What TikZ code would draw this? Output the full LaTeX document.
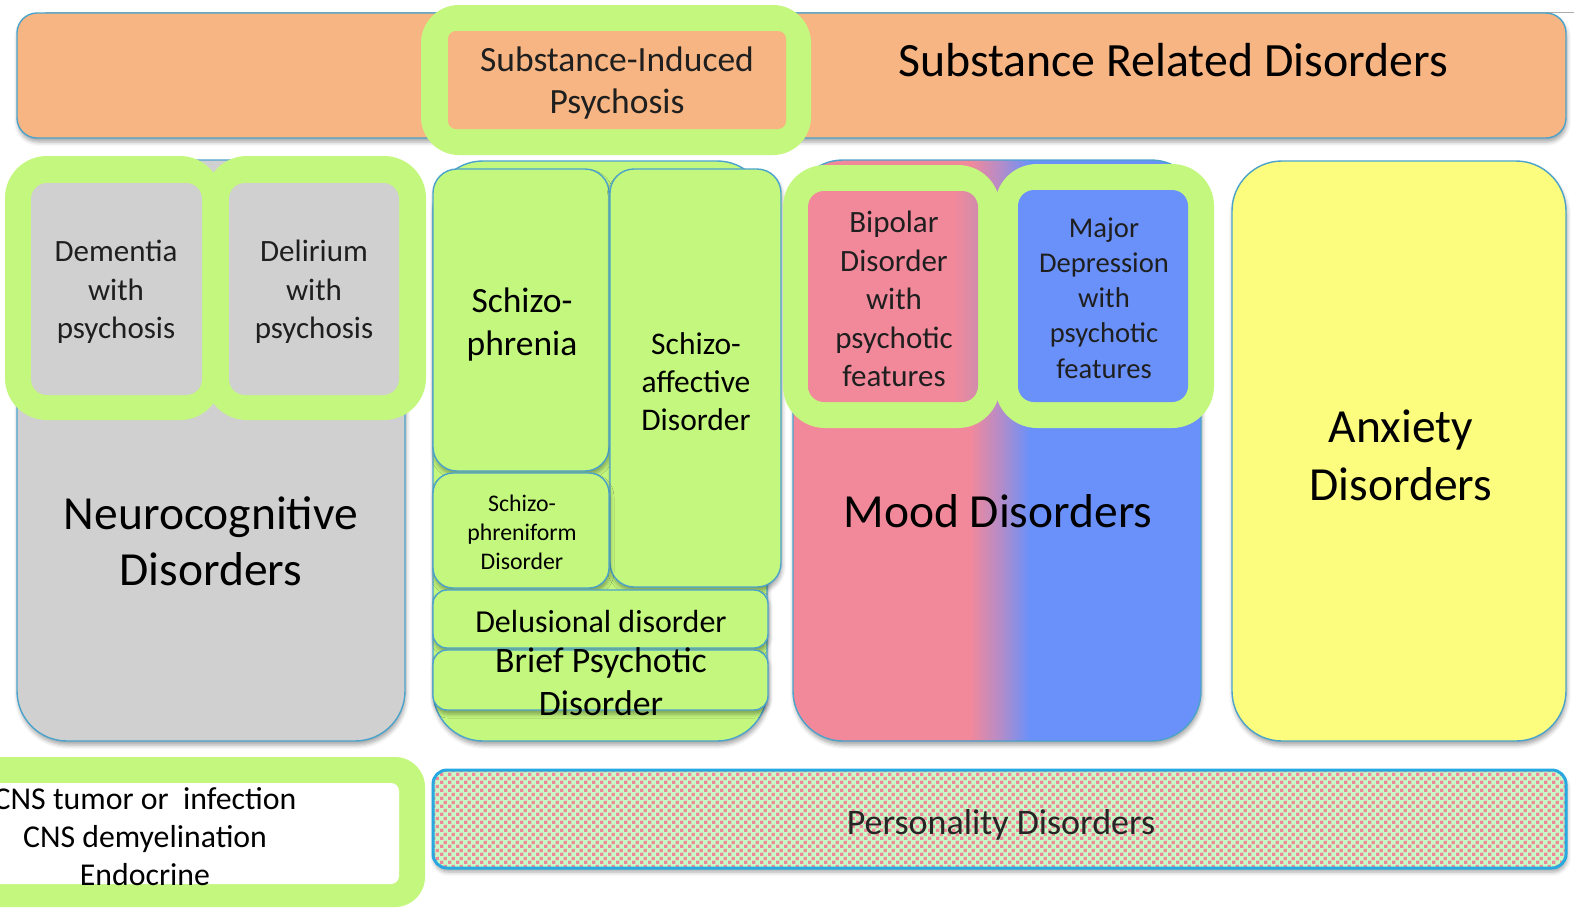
\documentclass[tikz,border=0pt]{standalone}
\usepackage{fontspec}
\setmainfont{Carlito}
\usetikzlibrary{shadows.blur,patterns}

\definecolor{edgeblue}{HTML}{4BA3CB}
\definecolor{persblue}{HTML}{29A8E0}
\definecolor{framegreen}{HTML}{C4F77E}
\definecolor{orangec}{HTML}{F6B582}
\definecolor{greyc}{HTML}{D0D0D0}
\definecolor{yellowc}{HTML}{FCFC7E}
\definecolor{moodpink}{HTML}{F2899B}
\definecolor{moodmid}{HTML}{B48CC8}
\definecolor{moodblue}{HTML}{6A91FA}
\definecolor{bipedge}{HTML}{D08CAC}
\definecolor{persbg}{HTML}{C8FAC8}
\definecolor{perssq}{HTML}{F0889A}

% colour blend of the mood column: pink on the left, blue on the right
\pgfdeclarehorizontalshading{moodshade}{100bp}{color(0bp)=(moodpink); color(46.7bp)=(moodpink); color(50.4bp)=(moodmid); color(54bp)=(moodblue); color(100bp)=(moodblue)}
\pgfdeclarehorizontalshading{bipshade}{100bp}{color(0bp)=(moodpink); color(68bp)=(moodpink); color(75bp)=(bipedge); color(100bp)=(bipedge)}

% small scattered squares of the personality band
\pgfdeclarepatternformonly{confetti}{\pgfpointorigin}{\pgfqpoint{8pt}{8pt}}{\pgfqpoint{8pt}{8pt}}{%
  \pgfpathrectangle{\pgfqpoint{0.2pt}{0.2pt}}{\pgfqpoint{3.6pt}{3.6pt}}%
  \pgfpathrectangle{\pgfqpoint{4.2pt}{4.2pt}}{\pgfqpoint{3.6pt}{3.6pt}}%
  \pgfusepath{fill}}

\tikzset{
  base/.style={rectangle, inner sep=0pt, outer sep=0pt, anchor=north west},
  sz/.style 2 args={minimum width=#1pt, minimum height=#2pt},
  outline/.style={base, draw=edgeblue, line width=1.4pt},
  soft/.style={blur shadow={shadow xshift=1pt, shadow yshift=-4pt, shadow blur radius=4pt, shadow opacity=35}},
  frame/.style={base, fill=framegreen},
  txt/.style={align=center, text=black, inner sep=0pt},
  fs/.style 2 args={font=\fontsize{#1pt}{#2pt}\selectfont},
}

\begin{document}
\begin{tikzpicture}[x=1pt, y=-1pt]
\useasboundingbox (0,0) rectangle (1574,911);

\draw[gray!65, line width=0.9pt] (45,12) -- (1574,12);

% Substance related band
\node[outline, soft, fill=orangec, rounded corners=20pt, sz={1549}{125}] (srd) at (17,13) {};
\node[txt, fs={47.8}{57}, anchor=base] (srdt) at (1173,76) {Substance Related Disorders};
\node[frame, rounded corners=38pt, sz={390}{150}] (sipf) at (421,5) {};
\node[base, fill=orangec, rounded corners=8pt, sz={338}{98}] (sip) at (448,31) {};
\node[txt, fs={35.5}{42}, text=black!88] (sipt) at (617,83) {Substance-Induced\\Psychosis};

% Neurocognitive column
\node[outline, soft, fill=greyc, rounded corners=50pt, sz={388}{581}] (neuro) at (17,160) {};
\node[frame, rounded corners=42pt, sz={217}{264}] (demf) at (5,156) {};
\node[frame, rounded corners=42pt, sz={221}{264}] (delf) at (205,156) {};
\node[base, fill=greyc, rounded corners=16pt, sz={171}{212}] (demi) at (31,183) {};
\node[base, fill=greyc, rounded corners=16pt, sz={170}{212}] (deli) at (229,183) {};
\node[txt, fs={31}{38.5}, text=black!88] (demt) at (116,292) {Dementia\\with\\psychosis};
\node[txt, fs={31}{38.5}, text=black!88] (delt) at (314,292) {Delirium\\with\\psychosis};
\node[txt, fs={47.5}{56}] (neurot) at (211,541) {Neurocognitive\\Disorders};

% Psychotic disorders column
\node[outline, soft, fill=framegreen, rounded corners=50pt, sz={334}{580}] (psy) at (433,161) {};
\node[outline, soft, fill=framegreen, rounded corners=24pt, sz={176}{302}] (schz) at (433,169) {};
\node[outline, soft, fill=framegreen, rounded corners=24pt, sz={171}{418}] (saff) at (610,169) {};
\node[outline, soft, fill=framegreen, rounded corners=20pt, sz={176}{115}] (sform) at (433,473) {};
\node[outline, soft, fill=framegreen, rounded corners=14pt, sz={335}{58}] (delus) at (433,590) {};
\node[outline, soft, fill=framegreen, rounded corners=14pt, sz={335}{60}] (brief) at (433,650) {};
\node[txt, fs={35.5}{43}] (schzt) at (522,325) {Schizo-\\phrenia};
\node[txt, fs={31.5}{38}] (safft) at (696,382) {Schizo-\\affective\\Disorder};
\node[txt, fs={23.8}{29}] (sformt) at (522,532) {Schizo-\\phreniform\\Disorder};
\node[txt, fs={32}{38}, anchor=base] (delust) at (601,632) {Delusional disorder};
\node[txt, fs={35.8}{43}] (brieft) at (601,682) {Brief Psychotic\\Disorder};

% Mood column
\node[outline, soft, shading=moodshade, rounded corners=50pt, sz={408}{581}] (mood) at (793,160) {};
\node[frame, rounded corners=42pt, sz={217}{263}] (bipf) at (783,165) {};
\node[frame, rounded corners=42pt, sz={219}{264}] (mdf) at (995,164) {};
\node[base, shading=bipshade, rounded corners=16pt, sz={170}{211}] (bipi) at (808,191) {};
\node[base, fill=moodblue, rounded corners=16pt, sz={170}{212}] (mdi) at (1018,190) {};
\node[txt, fs={31}{38.5}, text=black!88] (bipt) at (894,299) {Bipolar\\Disorder\\with\\psychotic\\features};
\node[txt, fs={28.6}{35.2}, text=black!88] (mdt) at (1104,298) {Major\\Depression\\with\\psychotic\\features};
\node[txt, fs={47.5}{57}, anchor=base] (moodt) at (998,527) {Mood Disorders};

% Anxiety column
\node[outline, soft, fill=yellowc, rounded corners=50pt, sz={334}{580}] (anx) at (1232,161) {};
\node[txt, fs={47.5}{58}] (anxt) at (1401,455) {Anxiety\\Disorders};

% Medical causes
\node[frame, rounded corners=30pt, sz={465}{150}] (cnsf) at (-40,757) {};
\node[base, fill=white, rounded corners=8pt, sz={419}{101}] (cnsi) at (-20,783) {};
\node[txt, fs={31.8}{38}] (cnst) at (145,837) {CNS tumor or\ \ infection\\CNS demyelination\\Endocrine};

% Personality band
\node[base, soft, preaction={fill=persbg}, pattern=confetti, pattern color=perssq, draw=persblue, line width=3pt, rounded corners=14pt, sz={1133}{98}] (pers) at (433,770) {};
\node[txt, fs={36}{44}, text=black!85] (perst) at (1001,825) {Personality Disorders};
\end{tikzpicture}
\end{document}
